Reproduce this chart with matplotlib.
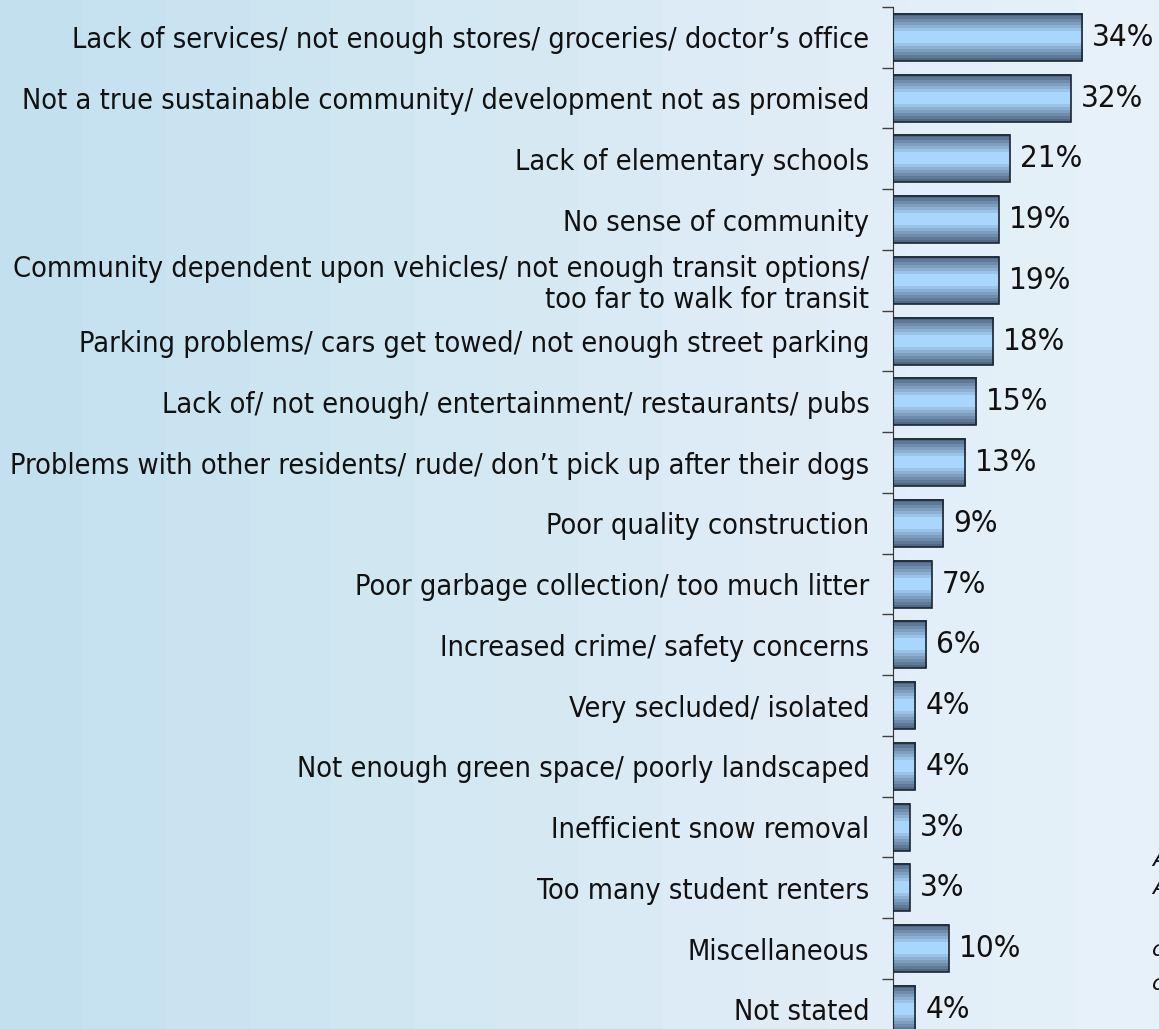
import numpy as np
import matplotlib.pyplot as plt
from matplotlib.colors import LinearSegmentedColormap

labels = ["Lack of services/ not enough stores/ groceries/ doctor\u2019s office",
          "Not a true sustainable community/ development not as promised",
          "Lack of elementary schools",
          "No sense of community",
          "Community dependent upon vehicles/ not enough transit options/\ntoo far to walk for transit",
          "Parking problems/ cars get towed/ not enough street parking",
          "Lack of/ not enough/ entertainment/ restaurants/ pubs",
          "Problems with other residents/ rude/ don\u2019t pick up after their dogs",
          "Poor quality construction",
          "Poor garbage collection/ too much litter",
          "Increased crime/ safety concerns",
          "Very secluded/ isolated",
          "Not enough green space/ poorly landscaped",
          "Inefficient snow removal",
          "Too many student renters",
          "Miscellaneous",
          "Not stated"]
values = [34, 32, 21, 19, 19, 18, 15, 13, 9, 7, 6, 4, 4, 3, 3, 10, 4]

W, H = 1159, 1029
fig = plt.figure(figsize=(W / 100, H / 100), dpi=100)

# background gradient
bg = fig.add_axes([0, 0, 1, 1], zorder=0)
bg_cmap = LinearSegmentedColormap.from_list("bg", ["#c3e0ef", "#d3e8f2", "#e0edf7", "#e8f3fa"])
steps = np.floor(np.linspace(0, 1, W) * 14) / 14
bg.imshow(steps[None, :], aspect="auto", cmap=bg_cmap, extent=[0, 1, 0, 1])
bg.axis("off")

top_px, step_px = 7, 60.75
n = len(values)
ax = fig.add_axes([893 / W, 1 - (top_px + n * step_px) / H, 1 - 893 / W, n * step_px / H], zorder=1)
ax.patch.set_alpha(0)

bar_cmap = LinearSegmentedColormap.from_list("bar", ["#4f6883", "#7e9ebf", "#a8d6fc", "#a8d6fc", "#7e9ebf", "#4f6883"])
prof = np.linspace(0, 1, 16)[:, None]
h = 0.775
y = np.arange(n)
for i, v in zip(y, values):
    ax.imshow(prof, aspect="auto", cmap=bar_cmap, extent=[0, v, i + h / 2, i - h / 2],
              interpolation="nearest", zorder=2)
ax.barh(y, values, height=h, fill=False, edgecolor="#1c2633", linewidth=1.2, zorder=3)

for i, v in zip(y, values):
    ax.text(v + 1.8, i, f"{v}%", va="center", ha="left", fontsize=22.5, color="#111111",
            fontstretch="condensed", zorder=4)

ax.set_xlim(0, (W - 893) / 5.56)
ax.set_ylim(n - 0.5, -0.5)
ax.set_yticks(np.arange(n + 1) - 0.5)
ax.set_yticklabels([])
ax.set_yticks(y, minor=True)
ax.set_yticklabels(labels, minor=True, fontsize=20.7, fontstretch="condensed", ha="right",
                   color="#111111", linespacing=1.1)
ax.tick_params(axis="y", which="major", length=8, color="#404040", width=1)
ax.tick_params(axis="y", which="minor", length=0, pad=17)
for lab in ax.get_yticklabels(minor=True):
    lab.set_multialignment("right")
ax.set_xticks([])
for s in ["top", "right", "bottom"]:
    ax.spines[s].set_visible(False)
ax.spines["left"].set_color("#333333")

# note at the right edge, cut off by the frame as in the original
for yy, s in [(860, "A"), (888, "A"), (950, "c"), (984, "c")]:
    fig.text(1152 / W, 1 - yy / H, s, fontsize=16, style="italic", va="center", ha="left",
             color="#111111")

fig.savefig("out.png", dpi=100)
